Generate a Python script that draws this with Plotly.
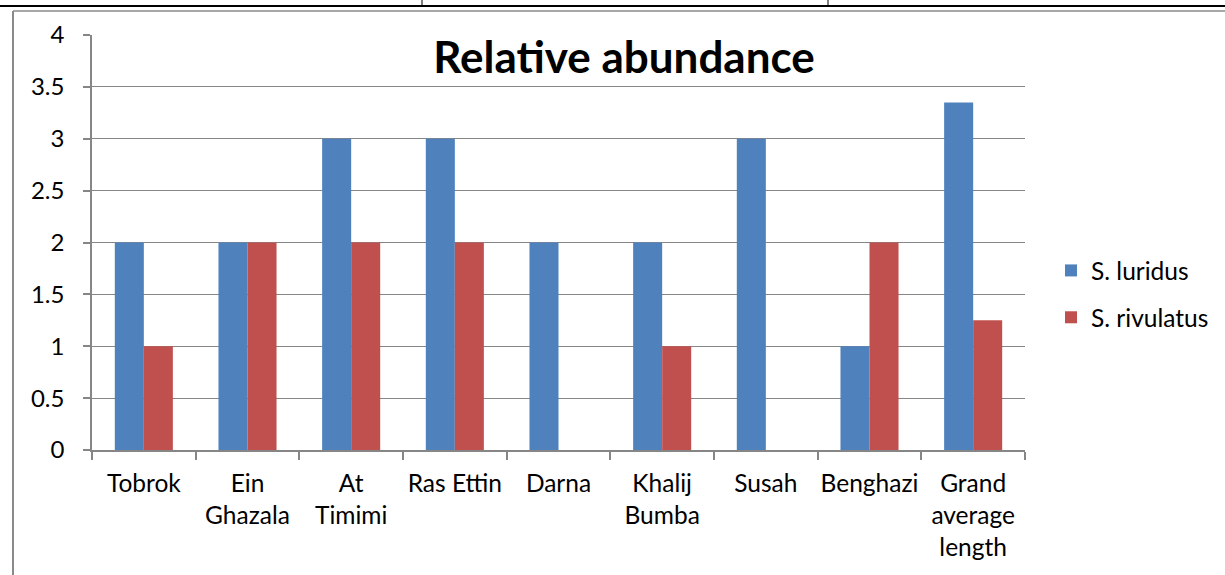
import plotly.graph_objects as go

categories = ["Tobrok", "Ein<br>Ghazala", "At<br>Timimi", "Ras Ettin", "Darna",
              "Khalij<br>Bumba", "Susah", "Benghazi", "Grand<br>average<br>length"]
luridus = [2, 2, 3, 3, 2, 2, 3, 1, 3.35]
rivulatus = [1, 2, 2, 2, 0, 1, 0, 2, 1.25]
y_ticks = [0, 0.5, 1, 1.5, 2, 2.5, 3, 3.5, 4]
y_labels = ["0", "0.5", "1", "1.5", "2", "2.5", "3", "3.5", "4"]

W, H = 1225, 575
L, R, T, B = 92, 200, 35, 125
pw, ph = W - L - R, H - T - B

def px(x):
    return (x - L) / pw

def py(y):
    return (H - B - y) / ph

FONT = "Lato"
FS = 24.5

fig = go.Figure()
fig.add_trace(go.Bar(x=categories, y=luridus, name="S. luridus", legendgroup="a",
                     marker=dict(color="#4F81BD", line=dict(width=0))))
fig.add_trace(go.Bar(x=categories, y=rivulatus, name="S. rivulatus", legendgroup="b",
                     marker=dict(color="#C0504D", line=dict(width=0))))

shapes = [
    dict(type="line", xref="paper", yref="paper", x0=px(13), x1=px(13), y0=py(11), y1=py(575),
         line=dict(color="#8a8a8a", width=2)),
    dict(type="line", xref="paper", yref="paper", x0=px(13), x1=px(1225), y0=py(11), y1=py(11),
         line=dict(color="#8a8a8a", width=1.5)),
    dict(type="line", xref="paper", yref="paper", x0=px(0), x1=px(1225), y0=py(6), y1=py(6),
         line=dict(color="#000000", width=2)),
    dict(type="line", xref="paper", yref="paper", x0=px(422), x1=px(422), y0=py(0), y1=py(6),
         line=dict(color="#000000", width=1)),
    dict(type="line", xref="paper", yref="paper", x0=px(828), x1=px(828), y0=py(0), y1=py(6),
         line=dict(color="#000000", width=1)),
]

fig.update_layout(
    width=W, height=H,
    margin=dict(l=L, r=R, t=T, b=B, autoexpand=False),
    paper_bgcolor="white", plot_bgcolor="white",
    barmode="group", bargap=0.44, bargroupgap=0,
    font=dict(family=FONT, size=FS, color="#000000"),
    title=dict(text="<b>Relative abundance</b>", x=624 / W, xanchor="center",
               y=1 - 58 / H, yanchor="middle", font=dict(family=FONT, size=44)),
    legend=dict(x=px(1051), y=py(248), xanchor="left", yanchor="top",
                font=dict(size=FS), tracegroupgap=12, itemsizing="constant",
                traceorder="grouped", itemwidth=30),
    shapes=shapes,
    showlegend=True,
)
fig.update_xaxes(showline=True, linecolor="#868686", linewidth=1.5,
                 ticks="outside", tickson="boundaries", ticklen=8, tickcolor="#868686",
                 tickwidth=1.5, showgrid=False, tickfont=dict(size=FS),
                 ticklabelstandoff=11, tickangle=0, automargin=False)
fig.update_yaxes(range=[0, 4], tickvals=y_ticks, ticktext=y_labels,
                 showline=True, linecolor="#868686", linewidth=1.5,
                 ticks="outside", ticklen=7, tickcolor="#868686", tickwidth=1.5,
                 showgrid=True, gridcolor="#868686", gridwidth=1.2,
                 tickfont=dict(size=24), ticklabelstandoff=14, zeroline=False,
                 automargin=False)

fig.write_html("out.html")
